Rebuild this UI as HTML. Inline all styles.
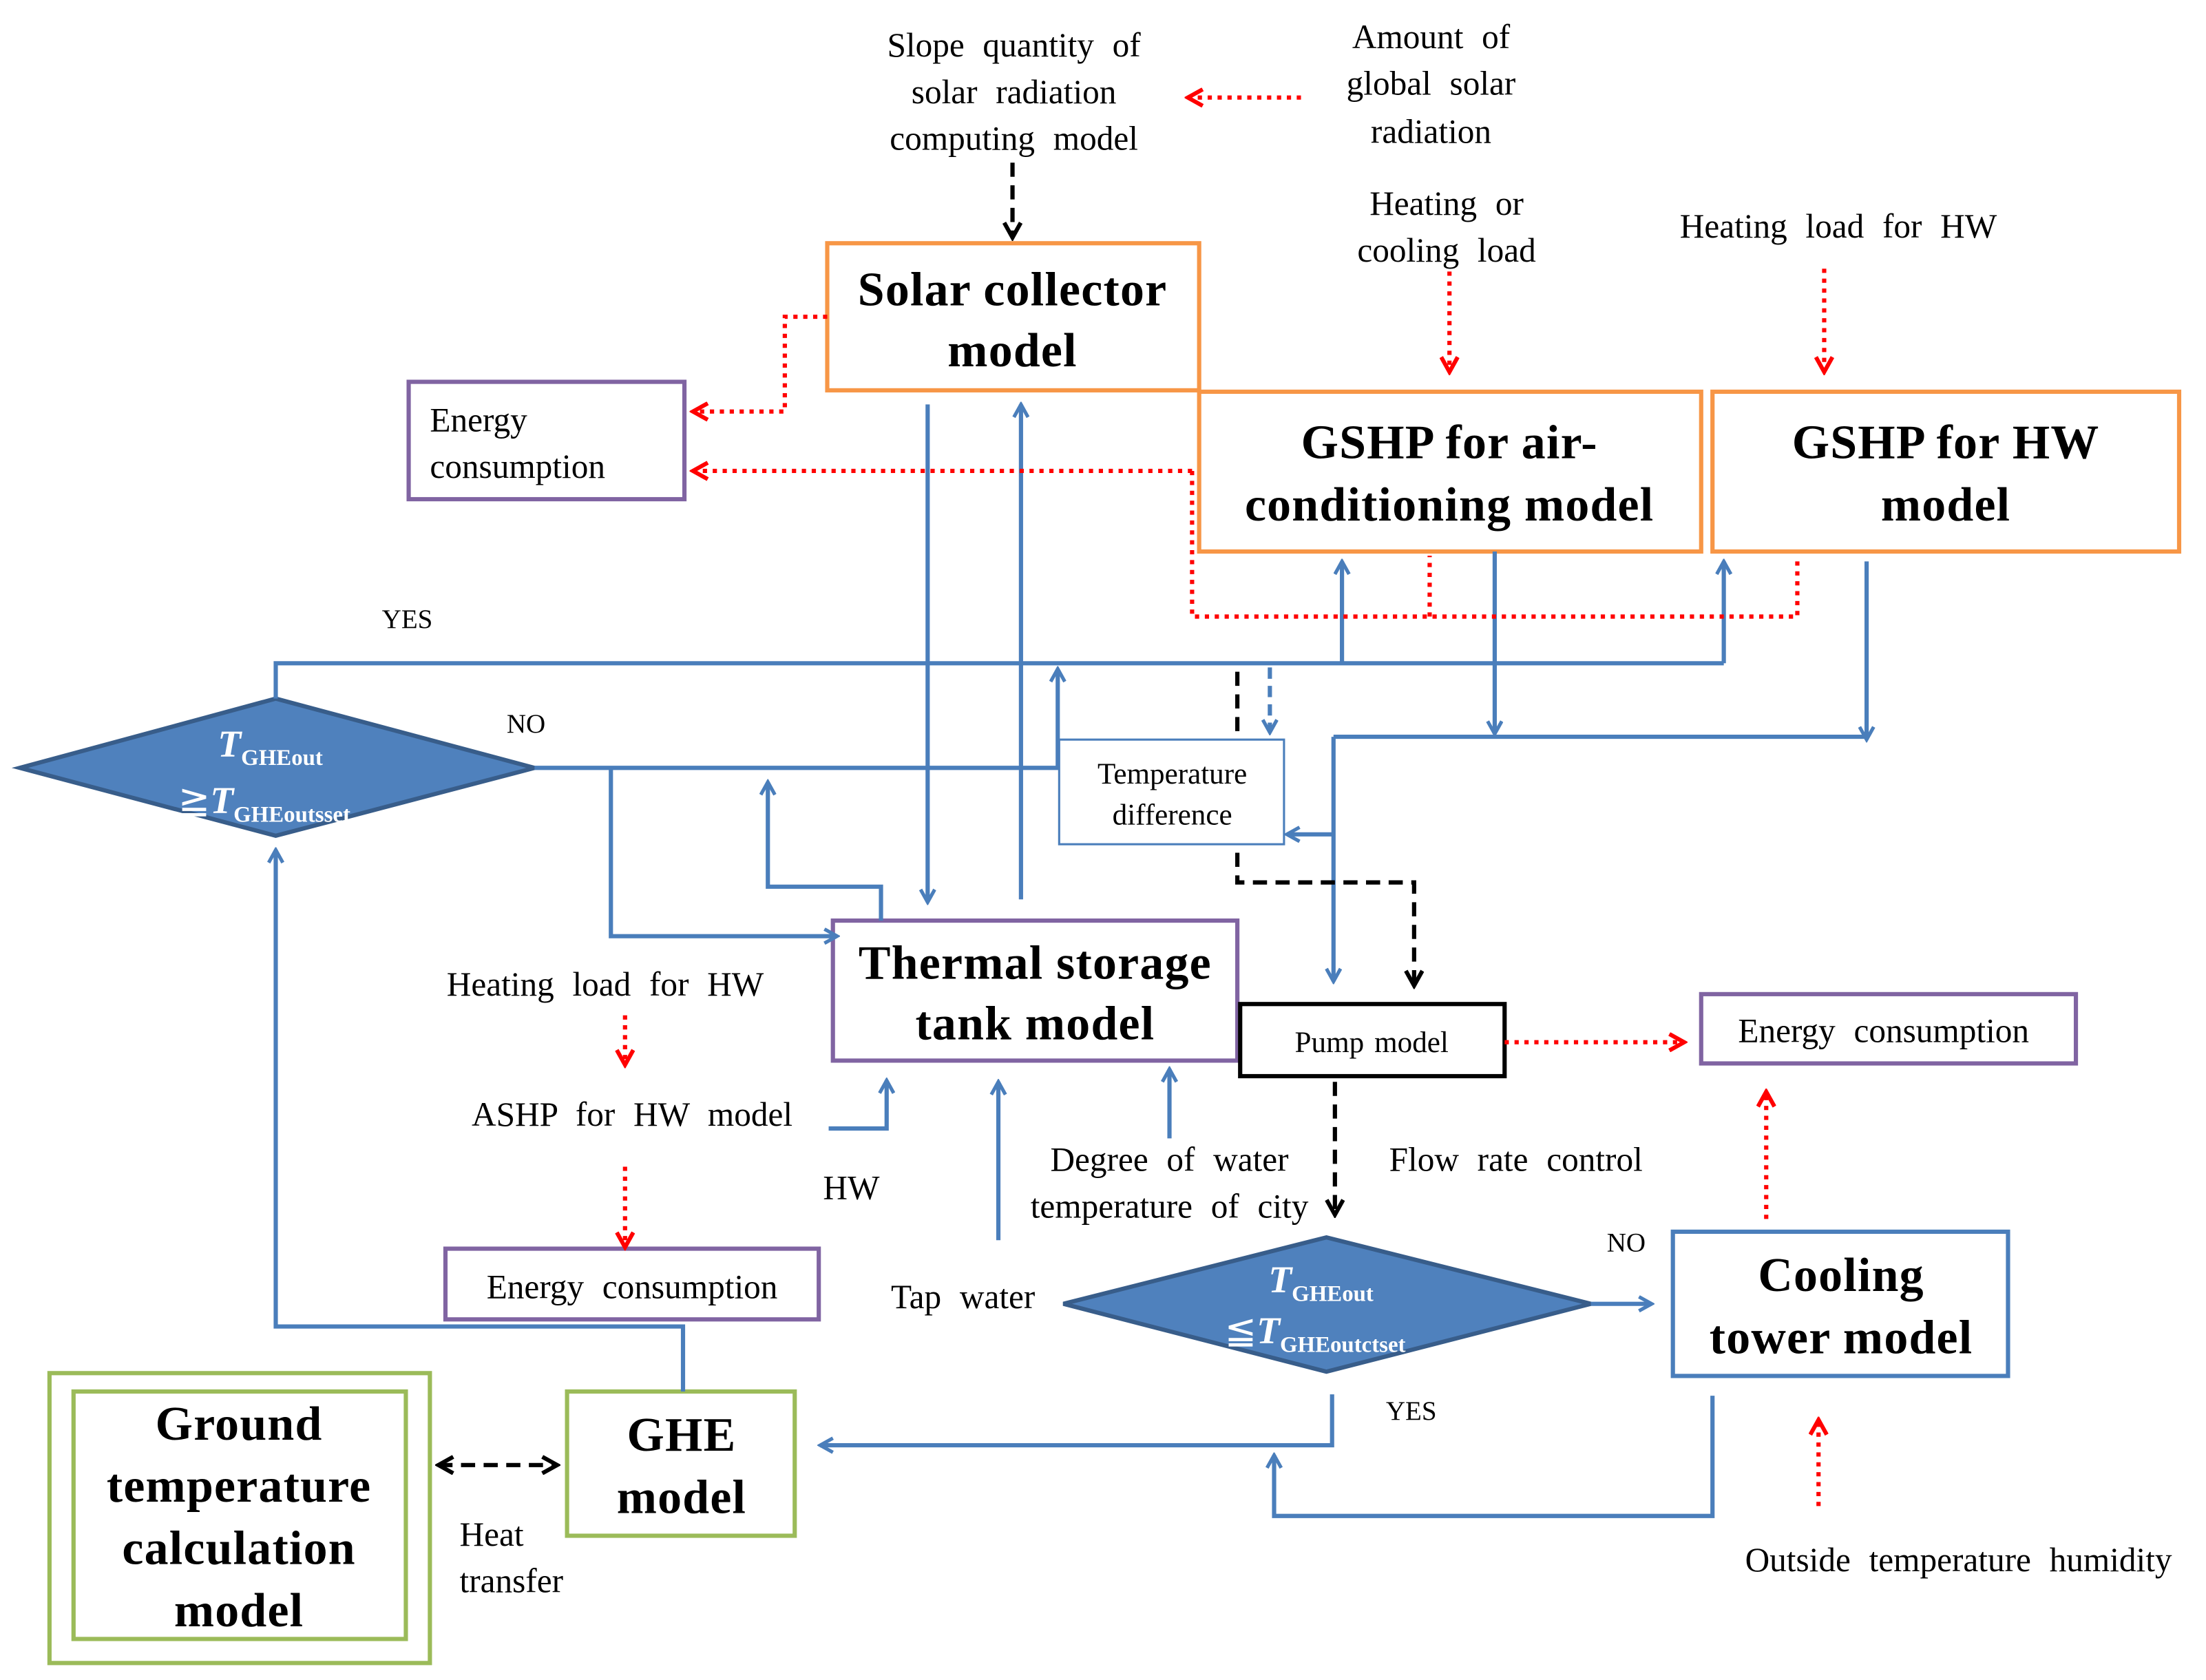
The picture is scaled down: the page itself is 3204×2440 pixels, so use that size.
<!DOCTYPE html>
<html><head><meta charset="utf-8"><style>html,body{margin:0;padding:0;background:#fff}svg{display:block}</style></head>
<body>
<svg width="3204" height="2440" viewBox="0 0 1560 1188" xmlns="http://www.w3.org/2000/svg" font-family="'Liberation Serif', serif">
<defs>
<marker id="ab" viewBox="0 0 12 12" refX="10" refY="6" markerWidth="12" markerHeight="12" markerUnits="userSpaceOnUse" orient="auto"><polyline points="1,1 10,6 1,11" fill="none" stroke="#4a7ebb" stroke-width="2.5"/></marker>
<marker id="ar" viewBox="0 0 12 12" refX="10" refY="6" markerWidth="14" markerHeight="14" markerUnits="userSpaceOnUse" orient="auto"><polyline points="1,1 10,6 1,11" fill="none" stroke="#ff0000" stroke-width="2.5"/></marker>
<marker id="ak" viewBox="0 0 12 12" refX="10" refY="6" markerWidth="14" markerHeight="14" markerUnits="userSpaceOnUse" orient="auto"><polyline points="1,1 10,6 1,11" fill="none" stroke="#000" stroke-width="2.5"/></marker>
<marker id="aks" viewBox="0 0 12 12" refX="2" refY="6" markerWidth="14" markerHeight="14" markerUnits="userSpaceOnUse" orient="auto"><polyline points="11,1 2,6 11,11" fill="none" stroke="#000" stroke-width="2.5"/></marker>
</defs>
<rect width="1560" height="1188" fill="#fff"/>

<!-- boxes -->
<g fill="none" stroke-width="3">
<rect x="585" y="172" width="263" height="104" stroke="#f79646"/>
<rect x="848" y="277" width="355" height="113" stroke="#f79646"/>
<rect x="1211" y="277" width="330" height="113" stroke="#f79646"/>
<rect x="289" y="270" width="195" height="83" stroke="#8064a2"/>
<rect x="589" y="651" width="286" height="99" stroke="#8064a2"/>
<rect x="1203" y="703" width="265" height="49" stroke="#8064a2"/>
<rect x="315" y="883" width="264" height="50" stroke="#8064a2"/>
<rect x="877" y="710" width="187" height="51" stroke="#000"/>
<rect x="1183" y="871" width="237" height="102" stroke="#4a7ebb"/>
<rect x="35" y="971" width="269" height="205" stroke="#9bbb59"/>
<rect x="52" y="984" width="235" height="175" stroke="#9bbb59"/>
<rect x="401" y="984" width="161" height="102" stroke="#9bbb59"/>
</g>
<polygon points="14,543 195,494 378,543 195,591" fill="#4f81bd" stroke="#385d8a" stroke-width="3"/>
<polygon points="752,922 938,875 1125,922 938,970" fill="#4f81bd" stroke="#385d8a" stroke-width="3"/>

<!-- blue lines -->
<g fill="none" stroke="#4a7ebb" stroke-width="3">
<polyline points="195,494 195,469 1219,469"/>
<line x1="949" y1="469" x2="949" y2="397" marker-end="url(#ab)"/>
<line x1="1219" y1="469" x2="1219" y2="397" marker-end="url(#ab)"/>
<line x1="748" y1="543" x2="748" y2="473" marker-end="url(#ab)"/>
<line x1="378" y1="543" x2="749" y2="543"/>
<polyline points="432,543 432,662 592,662" marker-end="url(#ab)"/>
<polyline points="623,651 623,627 543,627 543,553" marker-end="url(#ab)"/>
<line x1="656" y1="286" x2="656" y2="638" marker-end="url(#ab)"/>
<line x1="722" y1="636" x2="722" y2="286" marker-end="url(#ab)"/>
<line x1="1057" y1="390" x2="1057" y2="519" marker-end="url(#ab)"/>
<line x1="1320" y1="397" x2="1320" y2="523" marker-end="url(#ab)"/>
<line x1="943" y1="521" x2="1320" y2="521"/>
<line x1="943" y1="521" x2="943" y2="694" marker-end="url(#ab)"/>
<line x1="943" y1="590" x2="910" y2="590" marker-end="url(#ab)"/>
<line x1="898" y1="472" x2="898" y2="518" stroke-dasharray="8,5" marker-end="url(#ab)"/>
<polyline points="586,798 627,798 627,764" marker-end="url(#ab)"/>
<line x1="706" y1="877" x2="706" y2="765" marker-end="url(#ab)"/>
<line x1="827" y1="805" x2="827" y2="756" marker-end="url(#ab)"/>
<line x1="1125" y1="922" x2="1168" y2="922" marker-end="url(#ab)"/>
<polyline points="942,986 942,1022 580,1022" marker-end="url(#ab)"/>
<polyline points="1211,987 1211,1072 901,1072 901,1029" marker-end="url(#ab)"/>
<polyline points="483,984 483,938 195,938 195,601" marker-end="url(#ab)"/>
</g>

<!-- black dashed -->
<g fill="none" stroke="#000" stroke-width="3" stroke-dasharray="10,6">
<line x1="716" y1="115" x2="716" y2="168" marker-end="url(#ak)"/>
<polyline points="875,475 875,624 1000,624 1000,697" marker-end="url(#ak)"/>
<line x1="944" y1="765" x2="944" y2="859" marker-end="url(#ak)"/>
<line x1="310" y1="1036" x2="394" y2="1036" marker-start="url(#aks)" marker-end="url(#ak)"/>
</g>
<rect x="749" y="523" width="159" height="74" fill="#fff" stroke="#4a7ebb" stroke-width="1.5"/>

<!-- red dotted -->
<g fill="none" stroke="#ff0000" stroke-width="3" stroke-dasharray="3,4">
<line x1="920" y1="69" x2="840" y2="69" marker-end="url(#ar)"/>
<polyline points="585,224 555,224 555,291 490,291" marker-end="url(#ar)"/>
<line x1="843" y1="333" x2="490" y2="333" marker-end="url(#ar)"/>
<polyline points="843,333 843,436 1271,436 1271,393"/>
<line x1="1011" y1="436" x2="1011" y2="393"/>
<line x1="1025" y1="192" x2="1025" y2="263" marker-end="url(#ar)"/>
<line x1="1290" y1="190" x2="1290" y2="263" marker-end="url(#ar)"/>
<line x1="442" y1="718" x2="442" y2="753" marker-end="url(#ar)"/>
<line x1="442" y1="825" x2="442" y2="882" marker-end="url(#ar)"/>
<line x1="1064" y1="737" x2="1191" y2="737" marker-end="url(#ar)"/>
<line x1="1249" y1="862" x2="1249" y2="772" marker-end="url(#ar)"/>
<line x1="1286" y1="1065" x2="1286" y2="1004" marker-end="url(#ar)"/>
</g>

<!-- bold box labels -->
<g font-weight="bold" font-size="34" text-anchor="middle" fill="#000" letter-spacing="0.6">
<text x="716" y="216">Solar collector</text><text x="716" y="259">model</text>
<text x="1025" y="324">GSHP for air-</text><text x="1025" y="368">conditioning model</text>
<text x="1376" y="324">GSHP for HW</text><text x="1376" y="368">model</text>
<text x="732" y="692">Thermal storage</text><text x="732" y="735">tank model</text>
<text x="1302" y="913">Cooling</text><text x="1302" y="957">tower model</text>
<text x="482" y="1026">GHE</text><text x="482" y="1070">model</text>
<text x="169" y="1018">Ground</text><text x="169" y="1062">temperature</text><text x="169" y="1106">calculation</text><text x="169" y="1150">model</text>
</g>

<!-- plain labels -->
<g font-size="24" fill="#000" text-anchor="middle" word-spacing="7">
<text x="717" y="40">Slope quantity of</text><text x="717" y="73">solar radiation</text><text x="717" y="106">computing model</text>
<text x="1012" y="34">Amount of</text><text x="1012" y="67">global solar</text><text x="1012" y="101">radiation</text>
<text x="1023" y="152">Heating or</text><text x="1023" y="185">cooling load</text>
<text x="1300" y="168">Heating load for HW</text>
<text x="428" y="704">Heating load for HW</text>
<text x="447" y="796">ASHP for HW model</text>
<text x="602" y="848">HW</text>
<text x="827" y="828">Degree of water</text><text x="827" y="861">temperature of city</text>
<text x="1072" y="828">Flow rate control</text>
<text x="681" y="925">Tap water</text>
<text x="447" y="918">Energy consumption</text>
<text x="1332" y="737">Energy consumption</text>
<text x="1385" y="1111">Outside temperature humidity</text>
<text x="970" y="744" font-size="21" word-spacing="2">Pump model</text>
<text x="829" y="554" font-size="21">Temperature</text><text x="829" y="583" font-size="21">difference</text>
</g>
<g font-size="24" fill="#000">
<text x="304" y="305">Energy</text><text x="304" y="338">consumption</text>
<text x="325" y="1093">Heat</text><text x="325" y="1126">transfer</text>
</g>
<g font-size="19" fill="#000" text-anchor="middle">
<text x="288" y="444">YES</text><text x="372" y="518">NO</text>
<text x="1150" y="885">NO</text><text x="998" y="1004">YES</text>
</g>

<!-- diamond texts -->
<g fill="#fff" font-weight="bold">
<text x="154" y="535" font-size="27" font-style="italic">T<tspan font-size="16" font-style="normal" dy="6">GHEout</tspan></text>
<text x="126" y="575" font-size="27"><tspan font-weight="normal">≧</tspan><tspan font-style="italic">T</tspan><tspan font-size="16" dy="6">GHEoutsset</tspan></text>
<text x="897" y="914" font-size="27" font-style="italic">T<tspan font-size="16" font-style="normal" dy="6">GHEout</tspan></text>
<text x="866" y="950" font-size="27"><tspan font-weight="normal">≦</tspan><tspan font-style="italic">T</tspan><tspan font-size="16" dy="6">GHEoutctset</tspan></text>
</g>
</svg>
</body></html>
